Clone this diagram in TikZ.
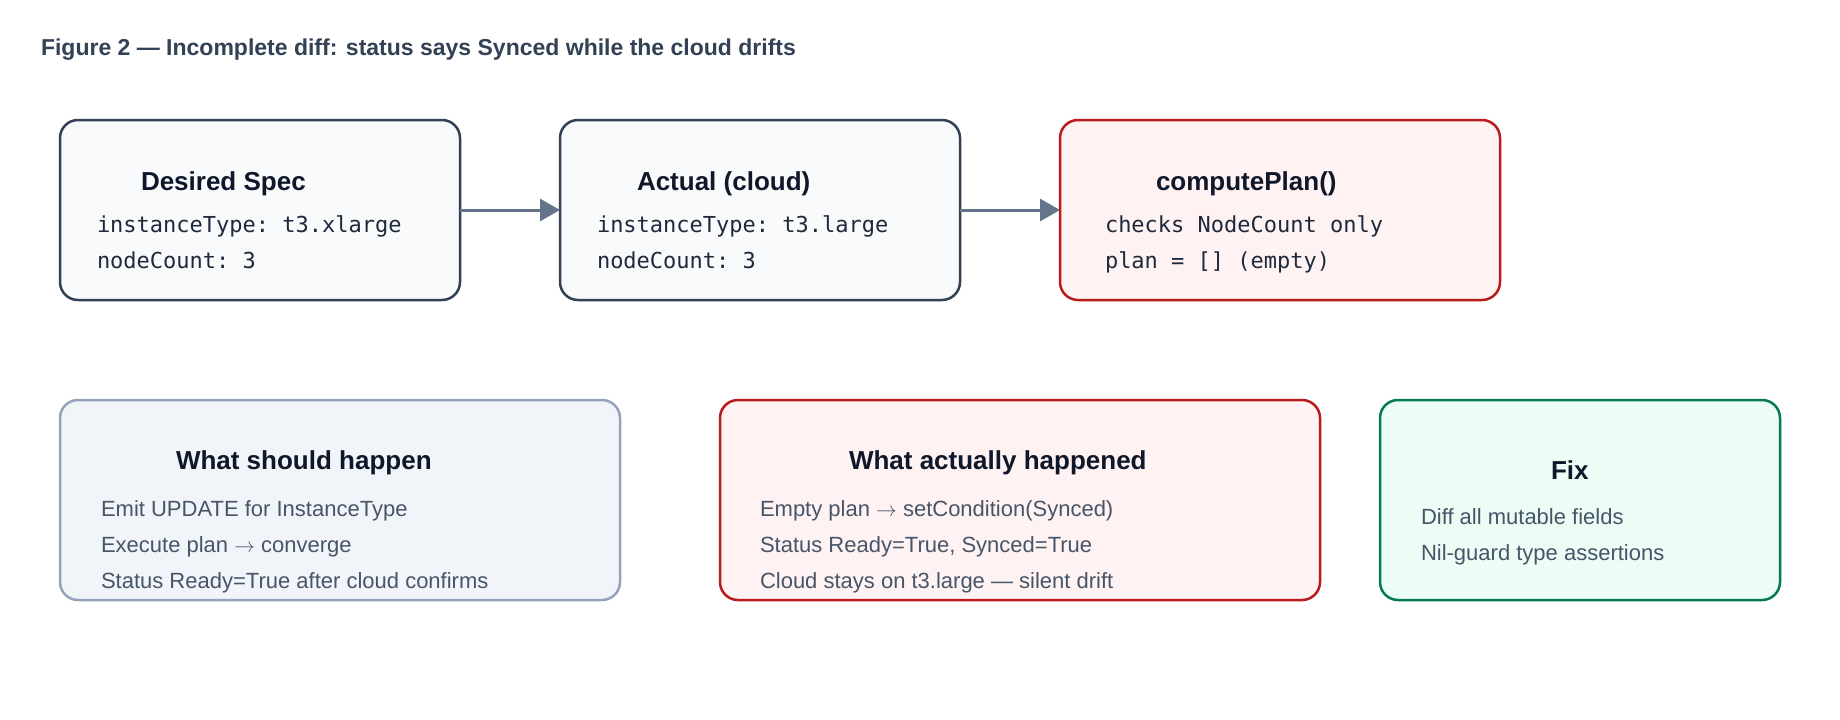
\documentclass[tikz,border=0pt]{standalone}
\usepackage{fontspec}
\setmainfont{Liberation Sans}
\setmonofont{DejaVu Sans Mono}
\usetikzlibrary{arrows.meta}
\definecolor{slatedark}{HTML}{334155}
\definecolor{slatefill}{HTML}{F8FAFC}
\definecolor{slatelight}{HTML}{94A3B8}
\definecolor{slatebg}{HTML}{F1F5F9}
\definecolor{redline}{HTML}{B91C1C}
\definecolor{redfill}{HTML}{FEF2F2}
\definecolor{greenline}{HTML}{047857}
\definecolor{greenfill}{HTML}{ECFDF5}
\definecolor{arrowcol}{HTML}{64748B}
\definecolor{titlecol}{HTML}{0F172A}
\definecolor{bodycol}{HTML}{475569}
\definecolor{monocol}{HTML}{1E293B}
\newcommand{\rarr}{\ensuremath{\rightarrow}}
\tikzset{
  box/.style={draw, rectangle, rounded corners=18pt, line width=2.5pt, inner sep=0pt, outer sep=0pt},
  darkbox/.style={box, draw=slatedark, fill=slatefill},
  redbox/.style={box, draw=redline, fill=redfill},
  greybox/.style={box, draw=slatelight, fill=slatebg},
  greenbox/.style={box, draw=greenline, fill=greenfill},
  txt/.style={anchor=base west, inner sep=0pt, outer sep=0pt},
  boxtitle/.style={txt, text=titlecol, font=\fontsize{26}{30}\selectfont\bfseries},
  monoline/.style={txt, text=monocol, font=\fontsize{22}{26}\selectfont\ttfamily},
  bodyline/.style={txt, text=bodycol, font=\fontsize{22}{26}\selectfont},
  conn/.style={draw=arrowcol, line width=3pt, -{Triangle[length=20pt, width=22pt]}}
}
\begin{document}
\begin{tikzpicture}[x=1pt, y=-1pt]
\useasboundingbox[fill=white] (0,0) rectangle (1840,720);

\node[txt, text=slatedark, font=\fontsize{23}{27}\selectfont\bfseries] (fig) at (41,55) {Figure 2 — Incomplete diff: status says Synced while the cloud drifts};

% top row
\node[darkbox, minimum width=400pt, minimum height=180pt] (b1) at (260,210) {};
\node[darkbox, minimum width=400pt, minimum height=180pt] (b2) at (760,210) {};
\node[redbox, minimum width=440pt, minimum height=180pt] (b3) at (1280,210) {};

\node[boxtitle] (b1t) at (141,190) {Desired Spec};
\node[monoline] (b1a) at (97,232) {instanceType: t3.xlarge};
\node[monoline] (b1b) at (97,268) {nodeCount: 3};

\node[boxtitle] (b2t) at (637,190) {Actual (cloud)};
\node[monoline] (b2a) at (597,232) {instanceType: t3.large};
\node[monoline] (b2b) at (597,268) {nodeCount: 3};

\node[boxtitle] (b3t) at (1156,190) {computePlan()};
\node[monoline] (b3a) at (1105,232) {checks NodeCount only};
\node[monoline] (b3b) at (1105,268) {plan = [] (empty)};

\draw[conn] (b1.east) -- (b2.west);
\draw[conn] (b2.east) -- (b3.west);

% bottom row
\node[greybox, minimum width=560pt, minimum height=200pt] (b4) at (340,500) {};
\node[redbox, minimum width=600pt, minimum height=200pt] (b5) at (1020,500) {};
\node[greenbox, minimum width=400pt, minimum height=200pt] (b6) at (1580,500) {};

\node[boxtitle] (b4t) at (176,469) {What should happen};
\node[bodyline] (b4a) at (101,516) {Emit UPDATE for InstanceType};
\node[bodyline] (b4b) at (101,552) {Execute plan \rarr{} converge};
\node[bodyline] (b4c) at (101,588) {Status Ready=True after cloud confirms};

\node[boxtitle] (b5t) at (849,469) {What actually happened};
\node[bodyline] (b5a) at (760,516) {Empty plan \rarr{} setCondition(Synced)};
\node[bodyline] (b5b) at (760,552) {Status Ready=True, Synced=True};
\node[bodyline] (b5c) at (760,588) {Cloud stays on t3.large — silent drift};

\node[boxtitle] (b6t) at (1551,479) {Fix};
\node[bodyline] (b6a) at (1421,524) {Diff all mutable fields};
\node[bodyline] (b6b) at (1421,560) {Nil-guard type assertions};
\end{tikzpicture}
\end{document}
